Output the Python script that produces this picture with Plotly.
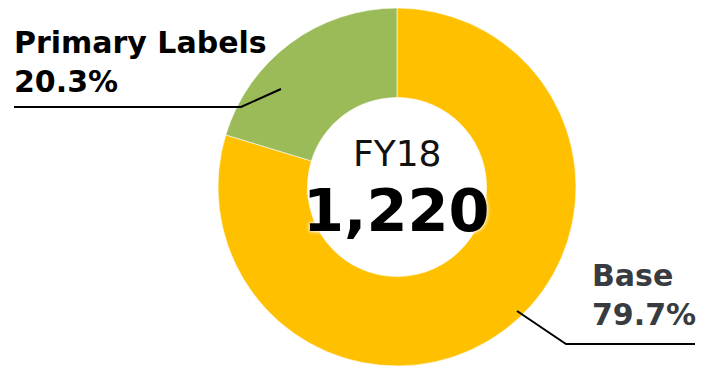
import plotly.graph_objects as go

# Segment data
segments = ["Base", "Primary Labels"]
shares = [79.7, 20.3]          # percent of total
colors = ["#FFC000", "#9BBB59"]
period = "FY18"
total = 1220

W, H = 705, 367
cx, cy, R = 397, 187, 179      # donut centre / radius in pixels (top-left origin)


def px(x):
    return x / W


def py(y):
    return 1 - y / H


fig = go.Figure(
    go.Pie(
        labels=segments,
        values=shares,
        sort=False,
        direction="clockwise",
        rotation=0,
        hole=0.5,
        marker=dict(colors=colors, line=dict(color="white", width=0.6)),
        textinfo="none",
        hoverinfo="label+percent",
        domain=dict(x=[px(cx - R), px(cx + R)], y=[py(cy + R), py(cy - R)]),
    )
)

label_font = "DejaVu Sans, Verdana, sans-serif"

annotations = [
    # centre
    dict(x=px(cx), y=py(153), text=period, showarrow=False,
         font=dict(family=label_font, size=36, color="#111111"),
         xanchor="center", yanchor="middle"),
    dict(x=px(cx - 1), y=py(210), text=f"<b>{total:,}</b>", showarrow=False,
         font=dict(family=label_font, size=59, color="#000000",
                   shadow="0px 0px 3px #ffffff, 0px 0px 5px #ffffff"),
         xanchor="center", yanchor="middle"),
    # segment labels
    dict(x=px(12), y=py(23), text=f"<b>{segments[1]}<br>{shares[1]:.1f}%</b>",
         showarrow=False, align="left",
         font=dict(family=label_font, size=30, color="#000000"),
         xanchor="left", yanchor="top"),
    dict(x=px(590), y=py(256), text=f"<b>{segments[0]}<br>{shares[0]:.1f}%</b>",
         showarrow=False, align="left",
         font=dict(family=label_font, size=30, color="#383C41"),
         xanchor="left", yanchor="top"),
]

# leader lines
shapes = [
    dict(type="path", xref="paper", yref="paper",
         path=f"M {px(14)},{py(107)} L {px(241)},{py(107)} L {px(281)},{py(89)}",
         line=dict(color="#000000", width=2)),
    dict(type="path", xref="paper", yref="paper",
         path=f"M {px(517)},{py(311)} L {px(566)},{py(344)} L {px(695)},{py(344)}",
         line=dict(color="#000000", width=2)),
]

fig.update_layout(
    width=W, height=H,
    margin=dict(l=0, r=0, t=0, b=0),
    paper_bgcolor="white", plot_bgcolor="white",
    showlegend=False,
    annotations=annotations,
    shapes=shapes,
)

fig.write_html("out.html")
